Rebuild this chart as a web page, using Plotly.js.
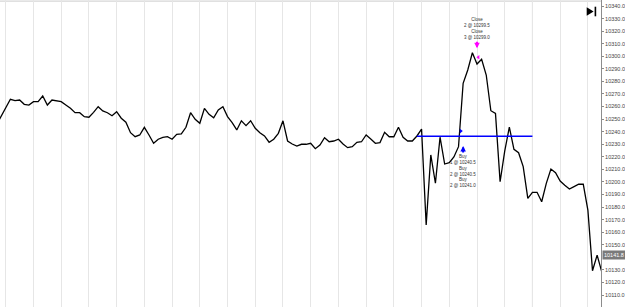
<!DOCTYPE html>
<html>
<head>
<meta charset="utf-8">
<script src="https://cdn.plot.ly/plotly-3.0.1.min.js"></script>
<style>
html,body{margin:0;padding:0;background:#fff;}
#chart{width:625px;height:307px;}
</style>
</head>
<body>
<div id="chart"></div>
<script>
// ---- data ----
const firstBar = -1;
const closePrices = [
  10245.6,
  10252.5,10258.8,10265.8,10264.7,10265.2,10261.8,10261.2,10263.9,10263.9,10268.4,
  10261.2,10265.2,10264.4,10263.9,10261.2,10258.6,10255.1,10255.1,10251.9,10251.5,
  10255.4,10259.9,10256.5,10255.1,10252.7,10255.9,10250.7,10247.5,10239.2,10236.0,
  10237.4,10243.5,10237.4,10230.8,10234.0,10235.5,10236.0,10234.0,10237.9,10238.2,
  10243.5,10255.1,10249.9,10246.7,10258.6,10253.8,10251.1,10257.3,10259.9,10252.0,
  10247.2,10241.4,10248.7,10244.8,10248.7,10242.7,10239.2,10236.6,10231.6,10234.0,
  10238.7,10248.7,10232.6,10230.2,10228.6,10230.0,10230.0,10230.8,10226.5,10229.4,
  10235.2,10232.0,10232.6,10234.0,10230.2,10227.3,10228.1,10231.6,10232.0,10237.4,
  10234.2,10230.8,10231.3,10239.5,10236.0,10236.0,10243.5,10235.5,10232.6,10232.6,
  10236.6,10242.1,10165.8,10221.5,10199.0,10235.6,10214.3,10215.3,10219.9,10228.1,
  10278.5,10289.1,10302.8,10293.8,10297.6,10285.1,10256.7,10254.6,10200.2,10224.6,
  10243.7,10226.0,10223.3,10212.2,10187.0,10191.8,10191.8,10184.3,10198.9,10210.3,
  10207.4,10200.8,10197.4,10194.4,10196.3,10198.2,10198.2,10177.7,10129.4,10141.8,
  10128.6
];
const bars = closePrices.map((_, k) => firstBar + k);

// price-axis tick labels (10140.0 is hidden behind the last-price box)
const tickValues = [10340,10330,10320,10310,10300,10290,10280,10270,10260,10250,10240,10230,
  10220,10210,10200,10190,10180,10170,10160,10150,10130,10120,10110];
const tickLabels = tickValues.map(v => v.toFixed(1));

const positionLineBars = [90, 115];
const positionLinePrice = [10236.3, 10236.3];

const buyFillBar = [99.5];
const buyFillPrice = [10240.5];
const closeFillBar = [103.3];
const closeFillPrice = [10299.2];

const buyArrowBar = 100, buyArrowPrice = 10228.6;
const closeArrowBar = 103, closeArrowPrice = 10306.4;

const buyLabels = ["Buy","1 @ 10240.5","Buy","2 @ 10240.5","Buy","2 @ 10241.0"];
const buyLabelPrice = 10208.5;
const closeLabels = ["Close","2 @ 10299.5","Close","3 @ 10299.0"];
const closeLabelPrice = 10322.0;

const lastPriceLabel = "10141.8";
const lastPrice = 10141.8;
const sessionBreakBar = 115;

const yRange = [10100.55, 10344.77];
const xRange = [-0.25, 129.84];

// ---- traces ----
const traces = [
  {x: bars, y: closePrices, type: 'scatter', mode: 'lines',
   line: {color: '#000', width: 1.3}, hoverinfo: 'skip', yaxis: 'y'},
  {x: positionLineBars, y: positionLinePrice, type: 'scatter', mode: 'lines',
   line: {color: '#0000ff', width: 1.5}, hoverinfo: 'skip'},
  {x: buyFillBar, y: buyFillPrice, type: 'scatter', mode: 'markers',
   marker: {symbol: 'triangle-right', size: 4, color: '#0000ff'}, hoverinfo: 'skip'},
  {x: closeFillBar, y: closeFillPrice, type: 'scatter', mode: 'markers',
   marker: {symbol: 'triangle-left', size: 4, color: '#ff00ff'}, hoverinfo: 'skip'}
];

const font = 'Liberation Sans, Arial, sans-serif';

const P = (px) => px / 601;       // paper x from pixel
const Q = (py) => 1 - py / 307;   // paper y from pixel

const layout = {
  width: 625, height: 307,
  margin: {l: 0, r: 24, t: 0, b: 0, pad: 0},
  paper_bgcolor: '#fff', plot_bgcolor: '#fff',
  showlegend: false,
  font: {family: font, size: 5.5, color: '#444'},
  xaxis: {range: xRange, tick0: 7, dtick: 6, showgrid: true, gridcolor: '#e6e6e6', gridwidth: 1,
          showticklabels: false, zeroline: false, ticks: '', showline: false, fixedrange: true},
  yaxis: {range: yRange, side: 'right', tickmode: 'array', tickvals: tickValues, ticktext: tickLabels,
          showgrid: false, zeroline: false, showline: true, linecolor: '#8c8c8c', linewidth: 1,
          ticks: 'outside', ticklen: 2, tickcolor: '#8c8c8c', ticklabelstandoff: 0,
          tickfont: {family: font, size: 5.5, color: '#444'}, fixedrange: true},
  yaxis2: {range: yRange, overlaying: 'y', side: 'right', tick0: 10340, dtick: 30,
           showgrid: true, gridcolor: '#e6e6e6', gridwidth: 1, showticklabels: false,
           zeroline: false, ticks: '', showline: false, fixedrange: true},
  shapes: [
    {type: 'line', xref: 'x', yref: 'paper', x0: sessionBreakBar, x1: sessionBreakBar, y0: 0, y1: 1,
     line: {color: '#bdbdbd', width: 1}, layer: 'below'},
    {type: 'line', xref: 'paper', yref: 'paper', x0: 0, x1: 1, y0: Q(1.2), y1: Q(1.2),
     line: {color: '#d6d6d6', width: 1.2}, layer: 'below'},
    {type: 'path', xref: 'paper', yref: 'paper',
     path: `M${P(586.7)},${Q(7.3)} L${P(586.7)},${Q(15.8)} L${P(593.6)},${Q(11.5)} Z`,
     fillcolor: '#000', line: {width: 0}},
    {type: 'rect', xref: 'paper', yref: 'paper', x0: P(594.6), x1: P(596.2), y0: Q(16.3), y1: Q(6.7),
     fillcolor: '#000', line: {width: 0}}
  ],
  annotations: [
    {x: closeArrowBar, y: closeArrowPrice, xref: 'x', yref: 'y', text: '', showarrow: true,
     ax: 0, ay: -8, arrowcolor: '#ff00ff', arrowwidth: 2, arrowhead: 2, arrowsize: 0.55, standoff: 0},
    {x: buyArrowBar, y: buyArrowPrice, xref: 'x', yref: 'y', text: '', showarrow: true,
     ax: 0, ay: 8, arrowcolor: '#0000ff', arrowwidth: 2, arrowhead: 2, arrowsize: 0.55, standoff: 0},
    {x: closeArrowBar, y: closeLabelPrice, xref: 'x', yref: 'y', text: closeLabels.join('<br>'),
     showarrow: false, font: {family: font, size: 4.5, color: '#333'}},
    {x: buyArrowBar, y: buyLabelPrice, xref: 'x', yref: 'y', text: buyLabels.join('<br>'),
     showarrow: false, font: {family: font, size: 4.5, color: '#333'}},
    {x: 1, xref: 'paper', xanchor: 'left', xshift: 1, y: lastPrice, yref: 'y', yanchor: 'middle',
     text: lastPriceLabel, showarrow: false, bgcolor: '#7a7a7a', borderpad: 1,
     font: {family: font, size: 5.5, color: '#fff'}}
  ]
};

Plotly.newPlot('chart', traces, layout, {staticPlot: true, displayModeBar: false});
</script>
</body>
</html>
